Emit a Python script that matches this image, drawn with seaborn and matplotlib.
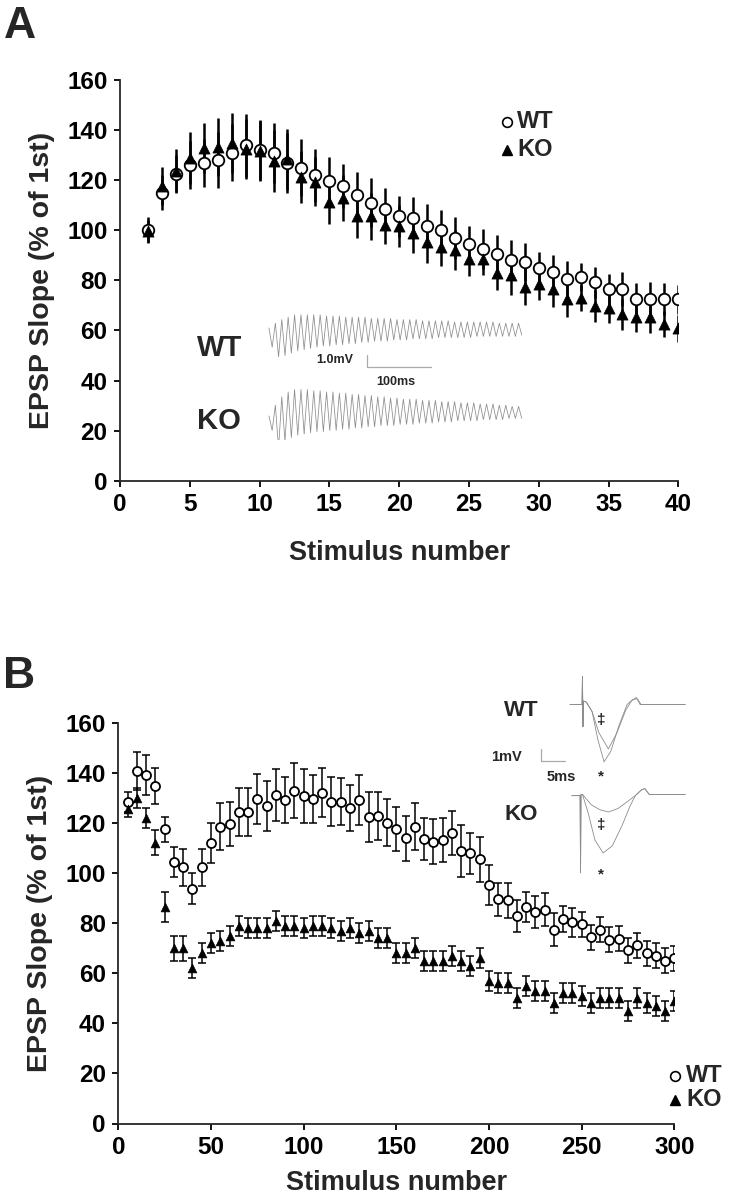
import matplotlib
matplotlib.use("Agg")
import matplotlib.pyplot as plt
from matplotlib.lines import Line2D
import numpy as np
import pandas as pd
import seaborn as sns

# ---------------- data: panel A (100 Hz train, 40 stimuli) ----------------
stim_A = list(range(2, 41))
wt_A = [100, 115, 122.5, 126, 127, 128, 131, 134, 132, 131, 127, 125, 122, 119.5,
        117.7, 114, 111, 108.4, 105.5, 105, 101.7, 100, 96.8, 94.5, 92.4, 90.7, 88.1,
        87.2, 85, 83.5, 80.4, 81.4, 79.2, 76.4, 76.7, 72.7, 72.4, 72.4, 72.4]
ko_A = [99.8, 117.8, 123.8, 129, 132.8, 133.2, 135, 132.4, 131.7, 127.8, 128.4, 121.2,
        119.4, 111.4, 112.8, 105.7, 105.5, 102.1, 101.7, 99, 95.5, 93.5, 92.1, 88.5,
        88.4, 82.8, 82, 77.5, 78.6, 76.4, 72.4, 73.1, 69.8, 68.8, 66.4, 65.5, 65.2,
        62.6, 60.9]
wt_A_sem = [5.2, 7.1, 7.7, 9.6, 9.6, 11.2, 11.3, 12.6, 12, 12, 12, 11.5, 10.6, 9.7,
            8.9, 9.2, 9.8, 8.4, 8.2, 8.4, 8.8, 7.9, 8.4, 7.2, 8, 7.4, 8, 7.6, 6.5, 6.6,
            7.5, 5.7, 6.3, 6.2, 6.8, 6.1, 7.1, 6.4, 5.8]
ko_A_sem = [4.3, 7.6, 8.7, 10.4, 9.9, 11.5, 12, 11.9, 12, 12.4, 12.2, 10.4, 9.9, 9,
            9.3, 8.9, 9.4, 7.6, 8.2, 7.9, 8.4, 7.7, 7.9, 6.7, 6.2, 6.6, 7.8, 7.3, 6.4,
            6.9, 6.9, 5.2, 6.3, 6, 6.2, 6, 6.3, 5.3, 5.4]

# ---------------- data: panel B (5 Hz train, 300 stimuli) ----------------
stim_B = list(range(5, 301, 5))
wt_B = [128.2, 140.8, 139.1, 134.8, 117.5, 104.3, 102.2, 93.8, 102.2, 112, 118.4,
        119.5, 124.3, 124.3, 129.5, 126.8, 131, 129.1, 132.8, 130.7, 129.5, 132,
        128.4, 128.4, 126, 129.1, 122.2, 122.7, 120, 117.5, 113.8, 118.4, 113.4,
        112.4, 113.1, 116, 108.8, 107.8, 105.4, 95.1, 89.5, 89.1, 82.8, 86.4, 84.4,
        85.4, 77.4, 81.6, 80.4, 79.5, 74.4, 77.4, 73.4, 73.8, 69.1, 71.1, 68, 67,
        65, 66]
wt_B_sem = [4, 7.6, 8, 7.2, 5, 6, 7.3, 6.2, 7.2, 8, 9.4, 8.9, 9.7, 9.7, 9.9, 10,
            10.4, 9.1, 11, 10.7, 9.6, 9.8, 9.8, 9.4, 9.1, 10, 10, 9.5, 9.4, 8.9, 8.9,
            9.4, 8.4, 9, 8.7, 8.7, 10.2, 8.2, 9, 7.9, 6.5, 6.9, 6.3, 6, 6.3, 6.6, 6.6,
            5.1, 5.8, 5, 5, 5, 5, 5, 5, 5, 5, 5, 5, 5]
ko_B = [125.5, 129.8, 121.8, 112, 86.4, 70, 70, 62, 68, 72, 73, 75, 79, 78, 78, 78,
        81, 79, 79, 78, 79, 79, 78, 77, 78, 76, 77, 74, 74, 68, 68, 70, 65, 65, 65,
        67, 65, 63, 66, 57, 56, 56, 50, 55, 53, 53, 48, 52, 52, 51, 48, 50, 50, 50,
        45, 50, 48, 47, 45, 49]
ko_B_sem = [3, 4, 4, 5, 6, 5, 5, 4, 4, 4, 4, 4, 4, 4, 4, 4, 4, 4, 4, 4, 4, 4, 4, 4,
            4, 4, 4, 4, 4, 4, 4, 4, 4, 4, 4, 4, 4, 4, 4, 4, 4, 4, 4, 4, 4, 4, 4, 4, 4,
            4, 4, 4, 4, 4, 4, 4, 4, 4, 4, 4]

# ---------------- inset traces, panel A (per-cycle peaks / troughs, mV) ----------------
wt_tr_peak = [1.0, 1.4, 1.7, 1.9, 2.1, 2.1, 2.1, 2.1, 2.1, 2.0, 2.0, 2.0, 1.9, 1.9,
              1.9, 1.9, 1.8, 1.8, 1.8, 1.8, 1.7, 1.7, 1.7, 1.7, 1.6, 1.6, 1.6, 1.6,
              1.6, 1.5, 1.5, 1.5, 1.5, 1.5, 1.5, 1.5, 1.4, 1.4, 1.4, 1.4]
wt_tr_trough = [-0.6, -1.4, -1.3, -1.1, -0.9, -0.8, -0.7, -0.6, -0.5, -0.5, -0.4,
                -0.4, -0.3, -0.3, -0.2, -0.2, -0.1, -0.1, -0.1, 0.0, 0.0, 0.0, 0.1,
                0.1, 0.1, 0.1, 0.2, 0.2, 0.2, 0.2, 0.2, 0.2, 0.3, 0.3, 0.3, 0.3, 0.3,
                0.3, 0.3, 0.4]
ko_tr_peak = [-0.5, 0.4, 1.1, 1.5, 1.7, 1.7, 1.7, 1.6, 1.6, 1.5, 1.5, 1.4, 1.4, 1.3,
              1.3, 1.2, 1.2, 1.1, 1.1, 1.0, 1.0, 0.9, 0.9, 0.9, 0.8, 0.8, 0.8, 0.7,
              0.7, 0.7, 0.6, 0.6, 0.6, 0.5, 0.5, 0.5, 0.4, 0.4, 0.3, 0.3]
ko_tr_trough = [-1.7, -3.2, -2.6, -2.3, -2.1, -2.0, -1.9, -1.8, -1.8, -1.7, -1.7,
                -1.6, -1.6, -1.5, -1.5, -1.4, -1.4, -1.3, -1.3, -1.3, -1.2, -1.2,
                -1.2, -1.1, -1.1, -1.1, -1.0, -1.0, -1.0, -0.9, -0.9, -0.9, -0.9,
                -0.8, -0.8, -0.8, -0.8, -0.7, -0.7, -0.7]

# ---------------- inset traces, panel B (ms, mV keypoints) ----------------
wtB_big_t = [0, 2.5, 2.6, 2.7, 2.8, 3.4, 4.6, 5.8, 7.1, 8.5, 10.2, 11.9, 13.0, 14.0, 14.8, 24]
wtB_big_v = [0, 0, 2.4, -1.9, 0.3, 0.2, -0.6, -3.0, -4.9, -4.0, -1.8, 0.0, 0.4, 0.5, 0.0, 0.0]
wtB_small_t = [0, 2.5, 2.6, 2.7, 2.8, 3.4, 4.6, 6.0, 8.0, 9.8, 11.6, 12.8, 13.8, 14.6, 24]
wtB_small_v = [0, 0, 2.4, -1.9, 0.3, 0.2, -0.6, -2.4, -3.8, -2.4, -0.5, 0.3, 0.6, 0.0, 0.0]
koB_big_t = [0.4, 2.1, 2.2, 2.3, 2.6, 3.8, 5.2, 6.9, 8.8, 10.8, 12.5, 13.6, 14.9, 15.6, 16.5, 24]
koB_big_v = [0, 0, -6.6, 0.1, 0.1, -1.5, -3.8, -4.9, -4.3, -2.6, -0.9, 0, 0.5, 0.6, 0.1, 0.1]
koB_small_t = [0.4, 2.1, 2.2, 2.3, 2.6, 4.5, 6.2, 8.0, 10.0, 12.0, 13.6, 14.9, 15.6, 16.5, 24]
koB_small_v = [0, 0, -6.6, 0.1, 0.1, -0.8, -1.2, -1.4, -1.1, -0.5, 0, 0.5, 0.6, 0.1, 0.1]

# ---------------- style ----------------
sns.set_style("ticks")
plt.rcParams['font.family'] = ['Liberation Sans', 'DejaVu Sans']
plt.rcParams['font.weight'] = 'bold'
plt.rcParams['axes.linewidth'] = 1.3

W, H = 756, 1200
fig = plt.figure(figsize=(W / 100, H / 100), dpi=100)


def rect(x0, y0, x1, y1):
    return [x0 / W, 1 - y1 / H, (x1 - x0) / W, (y1 - y0) / H]


def fx(x, y):
    return (x / W, 1 - y / H)


def style_axis(ax, xmax, xstep, xpad):
    ax.set_ylim(0, 160)
    ax.set_xlim(0, xmax)
    ax.set_yticks(range(0, 161, 20))
    ax.set_xticks(range(0, xmax + 1, xstep))
    sns.despine(ax=ax)
    ax.tick_params(axis='both', direction='out', length=4, width=1.3,
                   labelsize=17.5, pad=5, colors='black')
    for lab in ax.get_xticklabels() + ax.get_yticklabels():
        lab.set_fontweight('bold')
    ax.set_xlabel("Stimulus number", fontsize=19.5, fontweight='bold', labelpad=xpad)
    ax.set_ylabel("EPSP Slope (% of 1st)", fontsize=20.5, fontweight='bold', labelpad=9)
    ax.patch.set_alpha(0)


def draw_series(ax, x, wt, wts, ko, kos, ms_c, ms_t, elw, cap):
    df = pd.DataFrame({"stim": list(x) * 2, "value": list(wt) + list(ko),
                       "geno": ["WT"] * len(x) + ["KO"] * len(x)})
    ax.errorbar(x, wt, yerr=wts, fmt='none', ecolor='black', elinewidth=elw,
                capsize=cap, capthick=elw, zorder=1)
    ax.errorbar(x, ko, yerr=kos, fmt='none', ecolor='black', elinewidth=elw,
                capsize=cap, capthick=elw, zorder=1)
    sns.scatterplot(data=df[df.geno == "WT"], x="stim", y="value", marker='o',
                    s=ms_c ** 2, color='white', edgecolor='black', linewidth=1.3,
                    ax=ax, zorder=2, legend=False)
    sns.scatterplot(data=df[df.geno == "KO"], x="stim", y="value", marker='^',
                    s=ms_t ** 2, color='black', edgecolor='black', linewidth=0.5,
                    ax=ax, zorder=3, legend=False)


# ---------------- panel A ----------------
axA = fig.add_axes(rect(120, 80, 678.3, 480.7))
draw_series(axA, stim_A, wt_A, wt_A_sem, ko_A, ko_A_sem, 8.3, 8.0, 1.8, 0)
style_axis(axA, 40, 5, 17)

# legend A
fig.add_artist(Line2D([fx(507, 122)[0]], [fx(507, 122)[1]], marker='o', ms=7,
                      mfc='white', mec='black', mew=1.2, transform=fig.transFigure))
fig.add_artist(Line2D([fx(507, 150)[0]], [fx(507, 150)[1]], marker='^', ms=7,
                      mfc='black', mec='black', transform=fig.transFigure))
fig.text(*fx(517, 122), "WT", fontsize=17, fontweight='bold', va='center', ha='left')
fig.text(*fx(517, 150), "KO", fontsize=17, fontweight='bold', va='center', ha='left')

# inset traces A
insA = fig.add_axes(rect(260, 300, 540, 440))
insA.set_xlim(-12.5, 425)
insA.set_ylim(-8.33, 3.33)
insA.axis('off')
ko_off = -5.83
for peaks, troughs, off in [(wt_tr_peak, wt_tr_trough, 0.0), (ko_tr_peak, ko_tr_trough, ko_off)]:
    tt, vv = [], []
    for i, (p, q) in enumerate(zip(peaks, troughs)):
        tt += [i * 10 + 1.5, i * 10 + 6.5]
        vv += [p + off, q + off]
    insA.plot(tt, vv, color='#8c8c8c', lw=0.55)
insA.plot([155, 155, 255], [-1.25, -2.25, -2.25], color='#aaaaaa', lw=0.9)
fig.text(*fx(335, 360), "1.0mV", fontsize=9, fontweight='bold', ha='center', va='center')
fig.text(*fx(396, 382), "100ms", fontsize=9, fontweight='bold', ha='center', va='center')
fig.text(*fx(220, 348), "WT", fontsize=21, fontweight='bold', ha='center', va='center')
fig.text(*fx(219, 421), "KO", fontsize=21, fontweight='bold', ha='center', va='center')

# ---------------- panel B ----------------
axB = fig.add_axes(rect(118.3, 722.7, 674.3, 1123.5))
draw_series(axB, stim_B, wt_B, wt_B_sem, ko_B, ko_B_sem, 6.5, 6.3, 1.1, 3)
style_axis(axB, 300, 50, 8)

fig.add_artist(Line2D([fx(675, 1076)[0]], [fx(675, 1076)[1]], marker='o', ms=7,
                      mfc='white', mec='black', mew=1.2, transform=fig.transFigure))
fig.add_artist(Line2D([fx(675, 1100)[0]], [fx(675, 1100)[1]], marker='^', ms=7,
                      mfc='black', mec='black', transform=fig.transFigure))
fig.text(*fx(686, 1076), "WT", fontsize=17, fontweight='bold', va='center', ha='left')
fig.text(*fx(686, 1100), "KO", fontsize=17, fontweight='bold', va='center', ha='left')

insB = fig.add_axes(rect(560, 660, 700, 880))
insB.set_xlim(-2.08, 27.08)
insB.set_ylim(-15.0, 3.80)
insB.axis('off')
koB_off = -7.79
insB.plot(wtB_big_t, wtB_big_v, color='#8c8c8c', lw=0.6)
insB.plot(wtB_small_t, wtB_small_v, color='#8c8c8c', lw=0.6)
insB.plot(koB_big_t, [v + koB_off for v in koB_big_v], color='#8c8c8c', lw=0.6)
insB.plot(koB_small_t, [v + koB_off for v in koB_small_v], color='#8c8c8c', lw=0.6)
insB.plot([-5.98, -5.98, -0.98], [-3.8, -4.8, -4.8], color='#aaaaaa', lw=0.9, clip_on=False)
fig.text(*fx(507, 757), "1mV", fontsize=10.5, fontweight='bold', ha='center', va='center')
fig.text(*fx(561, 777), "5ms", fontsize=10.5, fontweight='bold', ha='center', va='center')
fig.text(*fx(521, 710), "WT", fontsize=16, fontweight='bold', ha='center', va='center')
fig.text(*fx(521, 815), "KO", fontsize=16, fontweight='bold', ha='center', va='center')
for (sx, sy, sym) in [(601, 720, "‡"), (601, 776, "*"), (601, 825, "‡"), (601, 874, "*")]:
    fig.text(*fx(sx, sy), sym, fontsize=11, ha='center', va='center')

# panel letters
fig.text(*fx(4, 27), "A", fontsize=32, fontweight='bold', ha='left', va='center')
fig.text(*fx(3, 676), "B", fontsize=32, fontweight='bold', ha='left', va='center')

fig.savefig("out.png", dpi=100)
